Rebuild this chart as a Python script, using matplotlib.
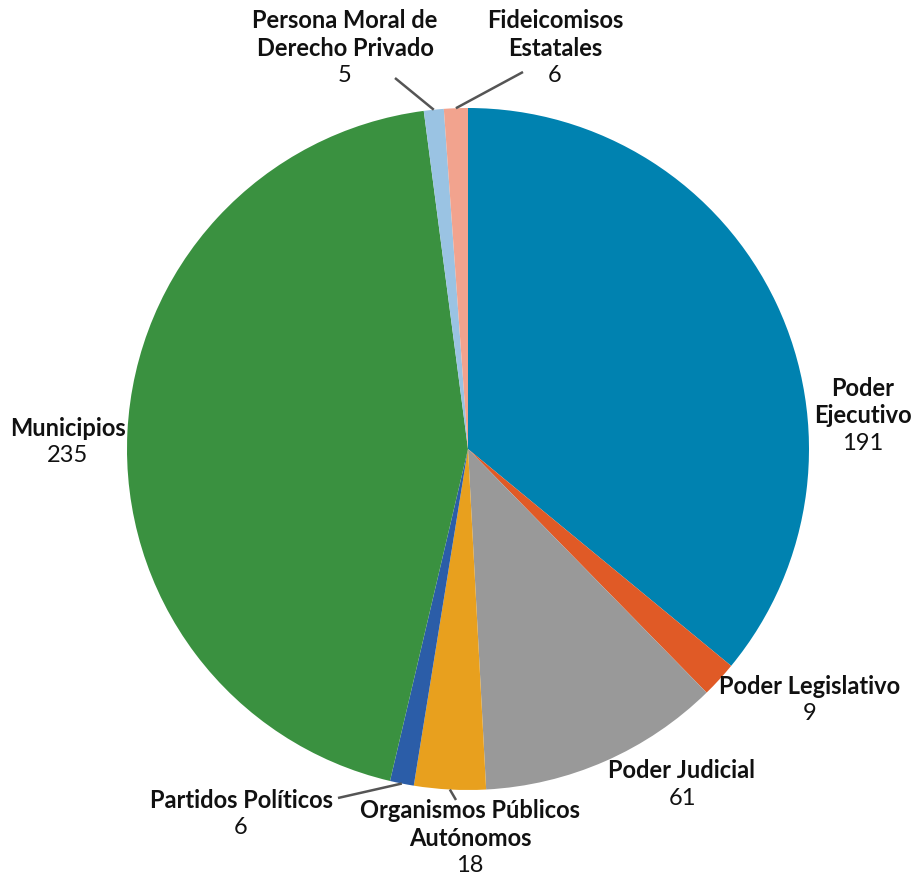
import matplotlib.pyplot as plt
import numpy as np

# data
categories = ["Poder\nEjecutivo", "Poder Legislativo", "Poder Judicial",
              "Organismos Públicos\nAutónomos", "Partidos Políticos",
              "Municipios", "Persona Moral de\nDerecho Privado",
              "Fideicomisos\nEstatales"]
values = [191, 9, 61, 18, 6, 235, 5, 6]
colors = ["#0082B0", "#E05A26", "#999999", "#E8A01E", "#2B5DA8",
          "#3A9140", "#9AC3E3", "#F2A38E"]

# label layout (pixel coords of first line centre, y from top) and leader-line ends
label_pos = [(863, 388), (810, 686), (682, 771), (470, 811), (241, 800),
             (68, 428), (345, 21), (555, 21)]
leader_end = [None, None, None, (456, 800), (338, 798), None, (395, 78), (523, 72)]

W, H = 917, 877
cx, cy, r = 468, 449, 341
line_h = 27.5

plt.rcParams['font.family'] = ['Lato', 'DejaVu Sans']
fig = plt.figure(figsize=(W / 100, H / 100), dpi=100)
ax = fig.add_axes([0, 0, 1, 1])

ax.pie(values, colors=colors, startangle=90, counterclock=False,
       center=(cx, H - cy), radius=r, frame=True,
       wedgeprops=dict(linewidth=0))
ax.set_xlim(0, W)
ax.set_ylim(0, H)
ax.set_axis_off()

total = sum(values)
cum = 0
for i, v in enumerate(values):
    mid = 90 - 360 * (cum + v / 2) / total
    cum += v
    if leader_end[i] is not None:
        a = np.radians(mid)
        x0 = cx + r * np.cos(a)
        y0 = cy - r * np.sin(a)
        x1, y1 = leader_end[i]
        ax.plot([x0, x1], [H - y0, H - y1], color='#555555', lw=1.8,
                solid_capstyle='butt')
    lx, ly = label_pos[i]
    lines = categories[i].split("\n")
    for j, ln in enumerate(lines):
        ax.text(lx, H - (ly + j * line_h), ln, ha='center', va='center',
                fontsize=17, fontweight='bold', color='#111111')
    ax.text(lx, H - (ly + len(lines) * line_h), str(v), ha='center',
            va='center', fontsize=17, color='#111111')

fig.savefig("out.png", dpi=100)
